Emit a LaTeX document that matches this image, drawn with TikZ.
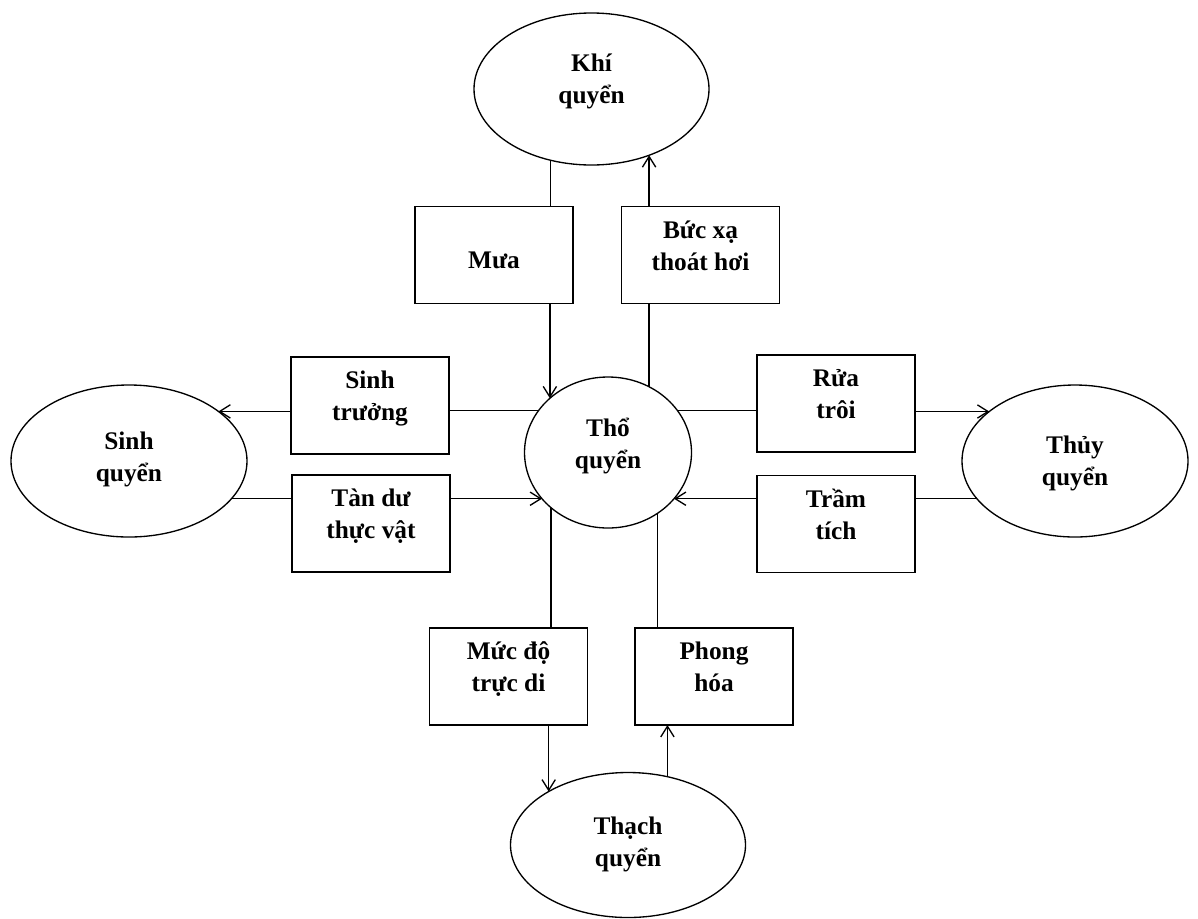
\documentclass[tikz,border=0pt]{standalone}
\usepackage{fontspec}
\setmainfont{Liberation Serif}
\usetikzlibrary{arrows.meta,shapes.geometric}
\newcommand\tx[2]{\raisebox{0pt}[#1][10pt]{\begin{tabular}[b]{@{}c@{}}#2\end{tabular}}}
\begin{document}
\begin{tikzpicture}[x=0.75pt,y=-0.75pt,line width=1pt,
  lbl/.style={font=\bfseries\fontsize{19}{24}\selectfont},
  box/.style={lbl,draw,rectangle,minimum width=118.5pt,minimum height=72.75pt,inner sep=0pt,outer sep=0pt},
  ell/.style={lbl,draw,ellipse,inner sep=0pt,outer sep=0pt},
  arr/.style={-{Straight Barb[length=8pt,width=10pt]}}]
\useasboundingbox (0,0) rectangle (1198,918);
% spheres
\node[ell,minimum width=176.25pt,minimum height=114pt] (khi) at (591.5,89) {\tx{31.6pt}{Khí\\quyển}};
\node[ell,minimum width=177pt,minimum height=114pt] (sinh) at (129,461) {\tx{41.4pt}{Sinh\\quyển}};
\node[ell,minimum width=125.25pt,minimum height=113.25pt] (tho) at (608,452.5) {\tx{33.8pt}{Thổ\\quyển}};
\node[ell,minimum width=169.5pt,minimum height=114pt] (thuy) at (1075,461) {\tx{47.4pt}{Thủy\\quyển}};
\node[ell,minimum width=176.25pt,minimum height=108.75pt] (thach) at (628,845) {\tx{42.8pt}{Thạch\\quyển}};
% process boxes
\node[box] (mua) at (494,255) {\tx{30.1pt}{Mưa}};
\node[box] (buc) at (700.5,255) {\tx{33.1pt}{Bức xạ\\thoát hơi}};
\node[box] (sinhtr) at (370,405.5) {\tx{33.1pt}{Sinh\\trưởng}};
\node[box] (tandu) at (371,523.5) {\tx{33.1pt}{Tàn dư\\thực vật}};
\node[box] (rua) at (836,403.5) {\tx{33.1pt}{Rửa\\trôi}};
\node[box] (tram) at (836,524) {\tx{33.1pt}{Trầm\\tích}};
\node[box] (mucdo) at (508.5,676.5) {\tx{33.1pt}{Mức độ\\trực di}};
\node[box] (phong) at (714,676.5) {\tx{33.1pt}{Phong\\hóa}};
% connectors: top
\draw (khi.240) -- (khi.240 |- mua.north);
\draw[arr] (mua.south -| tho.137) -- (tho.137);
\draw (tho.58) -- (tho.58 |- buc.south);
\draw[arr] (buc.north -| khi.311) -- (khi.311);
% left
\draw (tho.149) -- (tho.149 -| sinhtr.east);
\draw[arr] (sinhtr.west |- sinh.29) -- (sinh.29);
\draw (sinh.340) -- (sinh.340 -| tandu.west);
\draw[arr] (tandu.east |- tho.215) -- (tho.215);
% right
\draw (tho.31) -- (tho.31 -| rua.west);
\draw[arr] (rua.east |- thuy.150) -- (thuy.150);
\draw (thuy.201) -- (thuy.201 -| tram.east);
\draw[arr] (tram.west |- tho.325) -- (tho.325);
% bottom
\draw (tho.224) -- (tho.224 |- mucdo.north);
\draw[arr] (mucdo.south -| thach.146) -- (thach.146);
\draw (tho.309) -- (tho.309 |- phong.north);
\draw[arr] (thach.60) -- (thach.60 |- phong.south);
\end{tikzpicture}
\end{document}
